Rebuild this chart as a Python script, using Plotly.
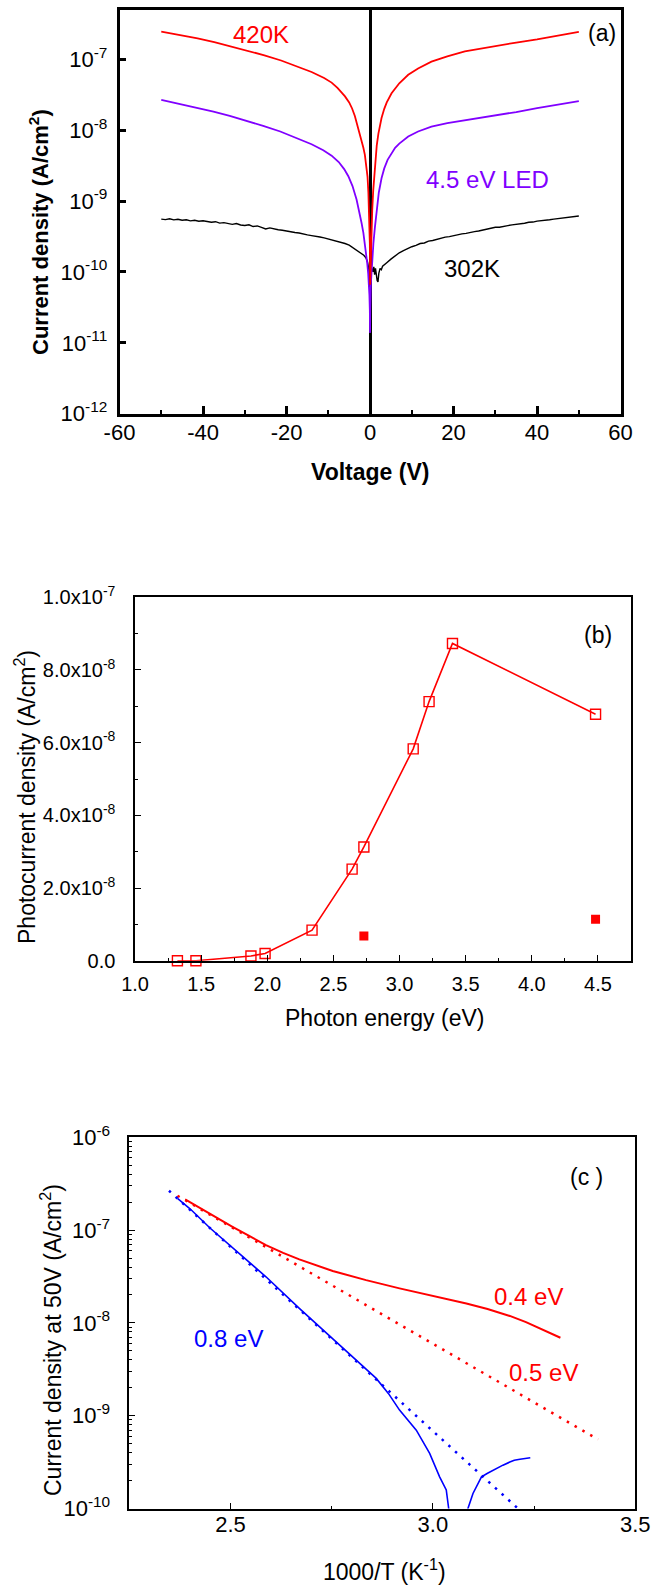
import plotly.graph_objects as go

# ---------------- data : panel (a) ----------------
# log10 of current density (A/cm^2) vs voltage (V)
red_V = [-50, -45.5, -41.3, -37.3, -33.3, -29.3, -25.3, -21.3, -17.35, -14, -11, -9.2, -7.8, -6.0,
         -5.0, -4.3, -3.64, -2.9, -2.03, -1.6, -1.24, -0.9, -0.6, -0.4, -0.29, -0.15, -0.05, 0.02,
         0.1, 0.2, 0.36, 0.52, 0.75, 1.0, 1.3, 1.6, 2.0, 2.75, 3.4, 4.0, 5.15, 7.0, 9.14, 11.5, 14.7,
         18.5, 22.7, 26.5, 30.3, 35, 40, 45, 50]
red_logJ = [-6.612, -6.658, -6.705, -6.758, -6.818, -6.880, -6.945, -7.018, -7.100, -7.180, -7.265,
            -7.330, -7.405, -7.525, -7.610, -7.695, -7.800, -7.950, -8.140, -8.250, -8.350, -8.480,
            -8.660, -8.880, -9.100, -9.350, -9.600, -10.18, -9.95, -9.78, -9.55, -9.13, -8.86,
            -8.66, -8.42, -8.22, -8.05, -7.83, -7.70, -7.61, -7.48, -7.34, -7.22, -7.13, -7.035,
            -6.96, -6.89, -6.85, -6.81, -6.765, -6.72, -6.665, -6.615]

led_V = [-50, -46, -41.5, -37.5, -33.6, -29.5, -25.6, -21.5, -17.6, -14, -11.2, -9.2, -7.5, -6.2,
         -5.2, -4.2, -3.23, -2.6, -2.03, -1.6, -1.24, -0.9, -0.67, -0.45, -0.29, -0.15, -0.05, 0.0,
         0.05, 0.2, 0.45, 0.8, 1.15, 1.56, 2.1, 2.75, 3.4, 4.2, 5.15, 6.0, 7.0, 8.0, 9.14, 11.5,
         14.7, 18.5, 22.7, 26.5, 30.3, 35, 40, 45, 50]
led_logJ = [-7.575, -7.625, -7.68, -7.74, -7.80, -7.87, -7.94, -8.02, -8.11, -8.20, -8.285, -8.36,
            -8.45, -8.55, -8.65, -8.79, -8.98, -9.14, -9.31, -9.45, -9.60, -9.76, -9.88, -10.02,
            -10.16, -10.33, -10.54, -10.86, -10.54, -10.16, -9.88, -9.60, -9.38, -9.13, -8.88,
            -8.68, -8.54, -8.42, -8.32, -8.25, -8.19, -8.14, -8.09, -8.02, -7.95, -7.90, -7.86,
            -7.83, -7.795, -7.745, -7.69, -7.64, -7.59]

k302_V = [-50, -49, -48, -47, -46, -45, -44, -43, -42, -41, -40, -39, -38, -37, -36, -35, -34, -33,
          -32, -31, -30, -29, -28, -27, -26, -25, -24, -23, -22, -21, -20, -19, -18, -17, -16, -15,
          -14, -13, -12, -11, -10, -9, -8, -7, -6, -5, -4, -3, -2, -1.5, -1, -0.6, -0.3, -0.1, 0.0,
          0.1, 0.2, 0.3, 0.5, 0.7, 0.9, 1.1, 1.3, 1.5, 1.7, 1.9, 2.1, 2.4, 2.7, 3.0, 3.5, 4, 5, 6, 7,
          8, 9, 10, 11, 12, 13, 14, 15, 16, 17, 18, 19, 20, 21, 22, 23, 24, 25, 26, 27, 28, 29, 30,
          31, 32, 33, 34, 35, 36, 37, 38, 39, 40, 41, 42, 43, 44, 45, 46, 47, 48, 49, 50]
k302_logJ = [-9.255, -9.262, -9.250, -9.266, -9.258, -9.272, -9.265, -9.280, -9.271, -9.286, -9.279,
             -9.293, -9.300, -9.292, -9.312, -9.305, -9.322, -9.330, -9.318, -9.338, -9.346, -9.335,
             -9.360, -9.352, -9.372, -9.395, -9.380, -9.398, -9.405, -9.412, -9.425, -9.432, -9.445,
             -9.452, -9.470, -9.478, -9.488, -9.495, -9.508, -9.520, -9.535, -9.548, -9.565, -9.580,
             -9.600, -9.622, -9.660, -9.700, -9.740, -9.765, -9.800, -9.860, -9.960, -10.10, -10.98,
             -10.98, -10.30, -9.94, -9.96, -10.00, -9.93, -10.04, -9.95, -10.06, -10.12, -10.14,
             -10.02, -9.95, -9.97, -9.92, -9.89, -9.87, -9.82, -9.77, -9.73, -9.70, -9.67, -9.645,
             -9.625, -9.600, -9.592, -9.566, -9.557, -9.538, -9.530, -9.510, -9.502, -9.486, -9.480,
             -9.463, -9.457, -9.441, -9.432, -9.423, -9.412, -9.396, -9.390, -9.370, -9.370, -9.353,
             -9.347, -9.336, -9.330, -9.318, -9.314, -9.300, -9.297, -9.283, -9.280, -9.268, -9.264,
             -9.256, -9.250, -9.238, -9.235, -9.222, -9.222, -9.212]

a_xticks = [-60, -40, -20, 0, 20, 40, 60]
a_xticktext = ["-60", "-40", "-20", "0", "20", "40", "60"]
a_xminor = [-50, -30, -10, 10, 30, 50]
a_yticks = [1e-12, 1e-11, 1e-10, 1e-9, 1e-8, 1e-7]
a_yticktext = ["10<sup>-12</sup>", "10<sup>-11</sup>", "10<sup>-10</sup>", "10<sup>-9</sup>",
               "10<sup>-8</sup>", "10<sup>-7</sup>"]

# ---------------- data : panel (b) ----------------
b_energy = [1.32, 1.46, 1.876, 1.983, 2.338, 2.641, 2.730, 3.103, 3.223, 3.400, 4.482]
b_photo = [0.0, 0.0, 1.3e-9, 2.0e-9, 8.4e-9, 2.52e-8, 3.13e-8, 5.83e-8, 7.13e-8, 8.73e-8, 6.78e-8]
b_energy_filled = [2.730, 4.482]
b_photo_filled = [6.8e-9, 1.14e-8]

b_xticks = [1.0, 1.5, 2.0, 2.5, 3.0, 3.5, 4.0, 4.5]
b_xticktext = ["1.0", "1.5", "2.0", "2.5", "3.0", "3.5", "4.0", "4.5"]
b_xminor = [1.25, 1.75, 2.25, 2.75, 3.25, 3.75, 4.25, 4.75]
b_yticks = [0, 2e-8, 4e-8, 6e-8, 8e-8, 1e-7]
b_yticktext = ["0.0", "2.0x10<sup>-8</sup>", "4.0x10<sup>-8</sup>", "6.0x10<sup>-8</sup>",
               "8.0x10<sup>-8</sup>", "1.0x10<sup>-7</sup>"]
b_yminor = [1e-8, 3e-8, 5e-8, 7e-8, 9e-8]

# ---------------- data : panel (c) ----------------
c_x_04 = [2.388, 2.42, 2.46, 2.505, 2.545, 2.5876, 2.63, 2.670, 2.7525, 2.835, 2.9176, 3.0, 3.0827,
          3.135, 3.19, 3.23, 3.263, 3.29, 3.315]
c_log_04 = [-6.669, -6.752, -6.855, -6.964, -7.060, -7.161, -7.245, -7.315, -7.440, -7.539, -7.628,
            -7.708, -7.790, -7.850, -7.925, -7.992, -8.055, -8.108, -8.160]
c_x_05fit = [2.369, 3.408]
c_log_05fit = [-6.63, -9.256]
c_x_08fit = [2.348, 3.21]
c_log_08fit = [-6.576, -10.0]
c_x_blue1 = [2.369, 2.40, 2.45, 2.5, 2.5876, 2.67, 2.7525, 2.81, 2.86, 2.89, 2.9176, 2.959, 2.992,
             3.0166, 3.033, 3.039, 3.042]
c_log_blue1 = [-6.658, -6.77, -6.98, -7.17, -7.503, -7.844, -8.167, -8.40, -8.598, -8.76, -8.94,
               -9.156, -9.407, -9.659, -9.80, -10.0, -10.3]
c_x_blue2 = [3.084, 3.0866, 3.099, 3.11, 3.12, 3.135, 3.1485, 3.16, 3.173, 3.19, 3.201, 3.215, 3.2406]
c_log_blue2 = [-10.4, -10.0, -9.838, -9.74, -9.659, -9.62, -9.587, -9.560, -9.533, -9.50, -9.48,
               -9.47, -9.454]

c_xticks = [2.5, 3.0, 3.5]
c_xticktext = ["2.5", "3.0", "3.5"]
c_xminor = [2.25, 2.75, 3.25]
c_yticks = [1e-10, 1e-9, 1e-8, 1e-7, 1e-6]
c_yticktext = ["10<sup>-10</sup>", "10<sup>-9</sup>", "10<sup>-8</sup>", "10<sup>-7</sup>",
               "10<sup>-6</sup>"]
c_yminor = [m * 10.0 ** e for e in range(-10, -6) for m in range(2, 10)]

# ---------------- layout helpers ----------------
W, H = 654, 1589
FONT = "Liberation Sans, Arial, sans-serif"
RED = "#FF0000"
PURPLE = "#8000FF"
BLUE = "#0000FF"


def px(x):
    return x / W


def py(y):
    return 1 - y / H


def p10(vals):
    return [10.0 ** v for v in vals]


fig = go.Figure()

# panel (a)
fig.add_trace(go.Scatter(x=k302_V, y=p10(k302_logJ), mode="lines", name="302K",
                         line=dict(color="black", width=1.4), xaxis="x", yaxis="y", showlegend=False))
fig.add_trace(go.Scatter(x=led_V, y=p10(led_logJ), mode="lines", name="4.5 eV LED",
                         line=dict(color=PURPLE, width=1.8), xaxis="x", yaxis="y", showlegend=False))
fig.add_trace(go.Scatter(x=red_V, y=p10(red_logJ), mode="lines", name="420K",
                         line=dict(color=RED, width=1.8), xaxis="x", yaxis="y", showlegend=False))

# panel (b)
fig.add_trace(go.Scatter(x=b_energy, y=b_photo, mode="lines+markers",
                         line=dict(color=RED, width=1.6),
                         marker=dict(symbol="square-open", size=10, color=RED, line=dict(width=1.4, color=RED)),
                         xaxis="x2", yaxis="y2", showlegend=False, cliponaxis=False))
fig.add_trace(go.Scatter(x=b_energy_filled, y=b_photo_filled, mode="markers",
                         marker=dict(symbol="square", size=9, color=RED),
                         xaxis="x2", yaxis="y2", showlegend=False))

# panel (c)
fig.add_trace(go.Scatter(x=c_x_05fit, y=p10(c_log_05fit), mode="lines",
                         line=dict(color=RED, width=2.5, dash="2.5px,6.5px"), xaxis="x3", yaxis="y3",
                         showlegend=False))
fig.add_trace(go.Scatter(x=c_x_08fit, y=p10(c_log_08fit), mode="lines",
                         line=dict(color=BLUE, width=2.5, dash="2.5px,6.5px"), xaxis="x3", yaxis="y3",
                         showlegend=False))
fig.add_trace(go.Scatter(x=c_x_04, y=p10(c_log_04), mode="lines",
                         line=dict(color=RED, width=2), xaxis="x3", yaxis="y3", showlegend=False))
fig.add_trace(go.Scatter(x=c_x_blue1, y=p10(c_log_blue1), mode="lines",
                         line=dict(color=BLUE, width=1.6), xaxis="x3", yaxis="y3", showlegend=False))
fig.add_trace(go.Scatter(x=c_x_blue2, y=p10(c_log_blue2), mode="lines",
                         line=dict(color=BLUE, width=1.6), xaxis="x3", yaxis="y3", showlegend=False))

# plot area pixel boxes (left, right, top, bottom)
A = (119.5, 620.6, 10.0, 413.7)
B = (135.1, 631.0, 597.3, 960.7)
C = (129.3, 635.3, 1137.3, 1508.5)


def common_axis(lw, tickw, size):
    return dict(showline=True, linecolor="black", linewidth=lw, mirror=True, ticks="inside",
                tickcolor="black", tickwidth=tickw, showgrid=False, zeroline=False,
                tickfont=dict(family=FONT, size=size, color="black"), automargin=False)


fig.update_layout(
    width=W, height=H, margin=dict(l=0, r=0, t=0, b=0),
    template="none", paper_bgcolor="white", plot_bgcolor="white",
    font=dict(family=FONT, color="black"),
    xaxis=dict(common_axis(2.5, 2.5, 22), domain=[px(A[0]), px(A[1])], range=[-60, 60],
               tickmode="array", tickvals=a_xticks, ticktext=a_xticktext, ticklen=8,
               minor=dict(tickmode="array", tickvals=a_xminor, ticks="inside", ticklen=4,
                          tickwidth=2, tickcolor="black"),
               zeroline=True, zerolinecolor="black", zerolinewidth=2.5, anchor="y",
               ticklabelstandoff=-3),
    yaxis=dict(common_axis(2.5, 2.5, 22), domain=[py(A[3]), py(A[2])], type="log",
               range=[-12, -6.306], tickmode="array", tickvals=a_yticks, ticktext=a_yticktext,
               ticklen=7, anchor="x", ticklabelstandoff=5),
    xaxis2=dict(common_axis(1.5, 1.2, 20), domain=[px(B[0]), px(B[1])], range=[1.0, 4.75],
                tickmode="array", tickvals=b_xticks, ticktext=b_xticktext, ticklen=6,
                minor=dict(tickmode="array", tickvals=b_xminor, ticks="inside", ticklen=3,
                           tickwidth=1.2, tickcolor="black"),
                anchor="y2", ticklabelstandoff=5),
    yaxis2=dict(common_axis(1.5, 1.2, 20), domain=[py(B[3]), py(B[2])], range=[0, 1e-7],
                tickmode="array", tickvals=b_yticks, ticktext=b_yticktext, ticklen=6,
                minor=dict(tickmode="array", tickvals=b_yminor, ticks="inside", ticklen=3,
                           tickwidth=1.2, tickcolor="black"),
                anchor="x2", ticklabelstandoff=14),
    xaxis3=dict(common_axis(1.5, 1.2, 22), domain=[px(C[0]), px(C[1])], range=[2.25, 3.5],
                tickmode="array", tickvals=c_xticks, ticktext=c_xticktext, ticklen=6,
                minor=dict(tickmode="array", tickvals=c_xminor, ticks="inside", ticklen=3,
                           tickwidth=1.2, tickcolor="black"),
                anchor="y3", ticklabelstandoff=-5),
    yaxis3=dict(common_axis(1.5, 1.2, 22), domain=[py(C[3]), py(C[2])], type="log",
                range=[-10, -6], tickmode="array", tickvals=c_yticks, ticktext=c_yticktext,
                ticklen=6,
                minor=dict(tickmode="array", tickvals=c_yminor, ticks="inside", ticklen=3,
                           tickwidth=1.2, tickcolor="black"),
                anchor="x3", ticklabelstandoff=13),
)


def note(text, x, y, size, color="black", bold=False, angle=0):
    t = f"<b>{text}</b>" if bold else text
    fig.add_annotation(text=t, x=px(x), y=py(y), xref="paper", yref="paper", showarrow=False,
                       xanchor="center", yanchor="middle", textangle=angle,
                       font=dict(family=FONT, size=size, color=color))


# panel (a) texts
note("420K", 261, 35, 24, RED)
note("(a)", 602, 33, 23)
note("4.5 eV LED", 487, 179, 24, PURPLE)
note("302K", 472, 268, 24)
note("Current density (A/cm<sup>2</sup>)", 39, 232, 22, bold=True, angle=-90)
note("Voltage (V)", 370, 471.7, 23, bold=True)

# panel (b) texts
note("(b)", 597.5, 635, 23)
note("Photocurrent density (A/cm<sup>2</sup>)", 25, 797, 23, angle=-90)
note("Photon energy (eV)", 384, 1018.3, 23)

# panel (c) texts
note("(c )", 586, 1177.3, 23)
note("0.4 eV", 528.7, 1296, 24, RED)
note("0.5 eV", 543, 1372, 24, RED)
note("0.8 eV", 228.7, 1338.3, 24, BLUE)
note("Current density at 50V (A/cm<sup>2</sup>)", 51, 1340, 23, angle=-90)
note("1000/T (K<sup>-1</sup>)", 384, 1570, 23)

fig.write_html("out.html")
